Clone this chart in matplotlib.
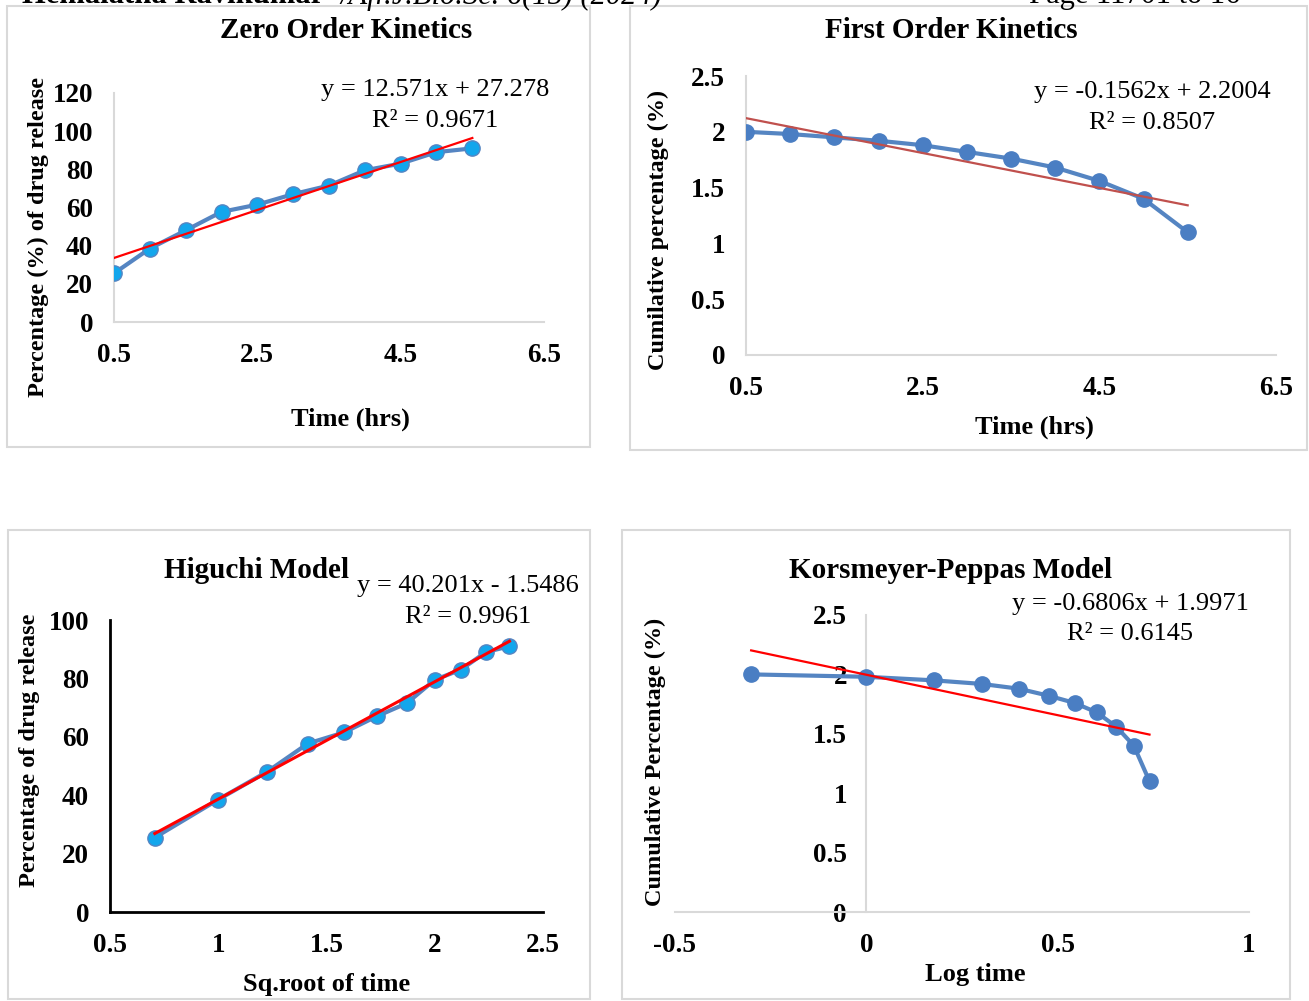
import matplotlib.pyplot as plt
from matplotlib.patches import Rectangle

plt.rcParams['font.family'] = ['Liberation Serif', 'DejaVu Serif']

W, H = 1309, 1001

# data
time_hrs = [0.5, 1.0, 1.5, 2.0, 2.5, 3.0, 3.5, 4.0, 4.5, 5.0, 5.5]
sqrt_time = [0.707, 1.0, 1.225, 1.414, 1.581, 1.732, 1.871, 2.0, 2.121, 2.236, 2.345]
log_time = [-0.301, 0.0, 0.176, 0.301, 0.398, 0.477, 0.544, 0.602, 0.653, 0.699, 0.740]
release_pct = [25.5, 38.5, 48.0, 57.7, 61.5, 67.0, 71.5, 79.5, 83.0, 89.0, 91.0]
log_remaining = [2.0, 1.98, 1.95, 1.92, 1.88, 1.82, 1.76, 1.68, 1.56, 1.40, 1.10]

# trendline coefficients shown on the chart (slope, intercept)
fit_zero = (12.571, 27.278)
fit_first = (-0.1562, 2.2004)
fit_higuchi = (40.201, -1.5486)
fit_kp = (-0.6806, 1.9971)

LINE = '#5585C2'
MARK_LIGHT = '#13A6EC'
MARK_DARK = '#4A7EC3'
GRID = '#D9D9D9'

TITLE_FS = 21
TICK_FS = 19.5
EQ_FS = 19
XLAB_FS = 19
YLAB_FS = 17.5


def fx(x):
    return x / W


def fy(y):
    return 1 - y / H


def px_axes(fig, x0, y0, x1, y1):
    # x0,y0 top-left ; x1,y1 bottom-right in pixels
    return fig.add_axes([fx(x0), fy(y1), (x1 - x0) / W, (y1 - y0) / H])


def style_axes(ax, spine_col, spine_w):
    for s in ['top', 'right']:
        ax.spines[s].set_visible(False)
    for s in ['left', 'bottom']:
        ax.spines[s].set_color(spine_col)
        ax.spines[s].set_linewidth(spine_w)
    ax.tick_params(length=0, pad=15, labelsize=TICK_FS)
    for lab in ax.get_xticklabels() + ax.get_yticklabels():
        lab.set_fontweight('bold')
    ax.patch.set_alpha(0)


def trend(ax, xs, coef, color, lw):
    x0, x1 = min(xs), max(xs)
    ax.plot([x0, x1], [coef[0] * x0 + coef[1], coef[0] * x1 + coef[1]],
            color=color, lw=lw, zorder=4)


def txt(fig, x, y, s, size=EQ_FS, bold=False, rot=0, ha='center', va='center', style='normal'):
    fig.text(fx(x), fy(y), s, fontsize=size, fontweight='bold' if bold else 'normal',
             rotation=rot, ha=ha, va=va, style=style)


fig = plt.figure(figsize=(W / 100, H / 100), dpi=100)

# panel boxes
for (x0, y0, x1, y1) in [(7, 6, 590, 447), (630, 6, 1307, 450), (8, 530, 590, 999), (622, 530, 1290, 999)]:
    fig.patches.append(Rectangle((fx(x0), fy(y1)), (x1 - x0) / W, (y1 - y0) / H,
                                 transform=fig.transFigure, fill=False,
                                 edgecolor=GRID, lw=1.5))

# header (cut off at top, as in the page scan)
fig.text(fx(22), fy(-4), 'Hemalatha Ravikumar', fontsize=22, fontweight='bold', ha='left', va='center')
fig.text(fx(340), fy(-4), '/Afr.J.Bio.Sc. 6(15) (2024)', fontsize=22, style='italic', ha='left', va='center')
fig.text(fx(1240), fy(-4), 'Page 11701 to 16', fontsize=22, ha='right', va='center')

# Zero order
ax = px_axes(fig, 114, 93, 544, 322)
ax.plot(time_hrs, release_pct, color=LINE, lw=3, marker='o', ms=11,
        mfc=MARK_LIGHT, mec=LINE, mew=1, zorder=3)
trend(ax, time_hrs, fit_zero, '#FF0000', 1.6)
ax.set_xlim(0.5, 6.5)
ax.set_ylim(0, 120)
ax.set_xticks([0.5, 2.5, 4.5, 6.5])
ax.set_xticklabels(['0.5', '2.5', '4.5', '6.5'])
ax.set_yticks(range(0, 121, 20))
style_axes(ax, GRID, 1.5)
txt(fig, 346, 30, 'Zero Order Kinetics', TITLE_FS, True)
txt(fig, 435, 90, 'y = 12.571x + 27.278')
txt(fig, 435, 121, 'R² = 0.9671')
txt(fig, 350, 419, 'Time (hrs)', XLAB_FS, True)
txt(fig, 38, 237, 'Percentage (%) of drug release', YLAB_FS, True, rot=90)

# First order
ax = px_axes(fig, 746, 76, 1276, 355)
ax.plot(time_hrs, log_remaining, color=LINE, lw=3, marker='o', ms=11,
        mfc=MARK_DARK, mec=MARK_DARK, zorder=3)
trend(ax, time_hrs, fit_first, '#C0504D', 1.6)
ax.set_xlim(0.5, 6.5)
ax.set_ylim(0, 2.5)
ax.set_xticks([0.5, 2.5, 4.5, 6.5])
ax.set_xticklabels(['0.5', '2.5', '4.5', '6.5'])
ax.set_yticks([0, 0.5, 1, 1.5, 2, 2.5])
ax.set_yticklabels(['0', '0.5', '1', '1.5', '2', '2.5'])
style_axes(ax, GRID, 1.5)
txt(fig, 951, 30, 'First Order Kinetics', TITLE_FS, True)
txt(fig, 1152, 92, 'y = -0.1562x + 2.2004')
txt(fig, 1152, 123, 'R² = 0.8507')
txt(fig, 1034, 427, 'Time (hrs)', XLAB_FS, True)
txt(fig, 658, 230, 'Cumilative percentage (%)', YLAB_FS, True, rot=90)

# Higuchi
ax = px_axes(fig, 110, 620, 543, 912)
ax.plot(sqrt_time, release_pct, color=LINE, lw=3, marker='o', ms=11,
        mfc=MARK_LIGHT, mec=LINE, mew=1, zorder=3)
trend(ax, sqrt_time, fit_higuchi, '#FF0000', 2.2)
ax.set_xlim(0.5, 2.5)
ax.set_ylim(0, 100)
ax.set_xticks([0.5, 1, 1.5, 2, 2.5])
ax.set_xticklabels(['0.5', '1', '1.5', '2', '2.5'])
ax.set_yticks(range(0, 101, 20))
style_axes(ax, 'black', 2)
txt(fig, 256, 571, 'Higuchi Model', TITLE_FS, True)
txt(fig, 468, 586, 'y = 40.201x - 1.5486')
txt(fig, 468, 617, 'R² = 0.9961')
txt(fig, 327, 984, 'Sq.root of time', XLAB_FS, True)
txt(fig, 30, 750, 'Percentage of drug release', YLAB_FS, True, rot=90)

# Korsmeyer-Peppas
ax = px_axes(fig, 675, 615, 1249, 912)
ax.plot(log_time, log_remaining, color=LINE, lw=3, marker='o', ms=11,
        mfc=MARK_DARK, mec=MARK_DARK, zorder=3)
trend(ax, log_time, fit_kp, '#FF0000', 1.6)
ax.set_xlim(-0.5, 1)
ax.set_ylim(0, 2.5)
ax.set_xticks([-0.5, 0, 0.5, 1])
ax.set_xticklabels(['-0.5', '0', '0.5', '1'])
ax.set_yticks([0, 0.5, 1, 1.5, 2, 2.5])
ax.set_yticklabels(['0', '0.5', '1', '1.5', '2', '2.5'])
ax.spines['left'].set_position(('data', 0))
style_axes(ax, GRID, 1.5)
ax.tick_params(axis='y', pad=14)
txt(fig, 950, 570, 'Korsmeyer-Peppas Model', TITLE_FS, True)
txt(fig, 1130, 604, 'y = -0.6806x + 1.9971')
txt(fig, 1130, 634, 'R² = 0.6145')
txt(fig, 975, 974, 'Log time', XLAB_FS, True)
txt(fig, 655, 762, 'Cumulative Percentage (%)', YLAB_FS, True, rot=90)

fig.savefig('out.png', dpi=100)
